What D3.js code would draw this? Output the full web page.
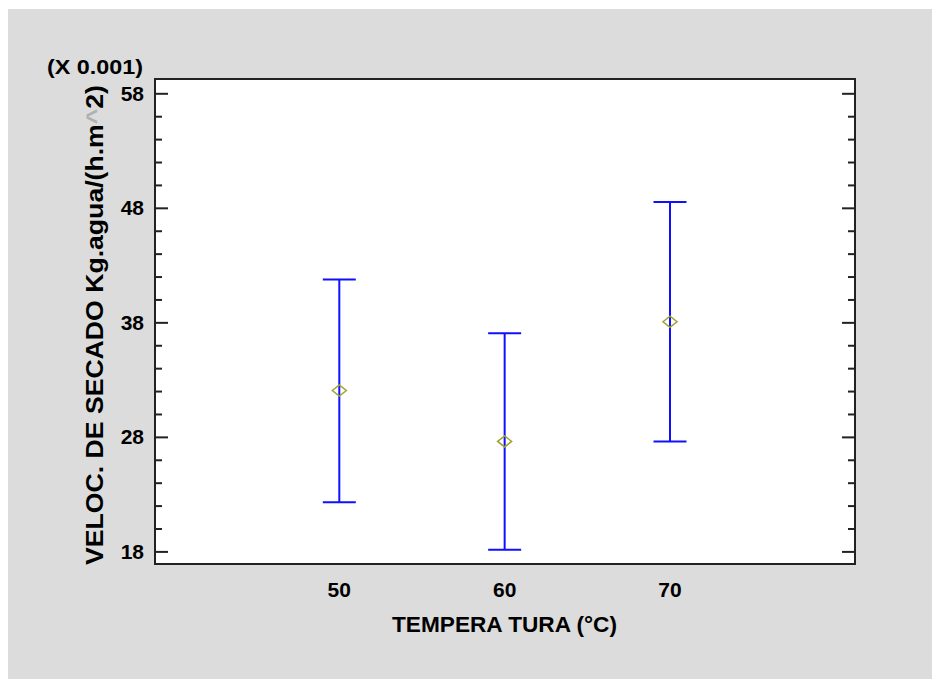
<!DOCTYPE html>
<html>
<head>
<meta charset="utf-8">
<script src="https://cdn.jsdelivr.net/npm/d3@7"></script>
<style>
  body { margin: 0; background: #fff; }
  text { font-family: "Liberation Sans", Arial, sans-serif; font-weight: bold; fill: #000; }
</style>
</head>
<body>
<div id="chart"></div>
<script>
// temperature groups and their means with interval limits (x 0.001)
const temps = [50, 60, 70];
const means = [32.05, 27.6, 38.05];
const lower = [22.3, 18.15, 27.6];
const upper = [41.75, 37.05, 48.5];
const yTicks = [18, 28, 38, 48, 58];

const W = 932, H = 679;
const svg = d3.select('#chart')
    .append('svg')
    .attr('width', W)
    .attr('height', H);

// grey panel
svg.append('rect')
    .attr('x', 8)
    .attr('y', 9)
    .attr('width', W - 8)
    .attr('height', H - 9)
    .attr('fill', '#dcdcdc');

const plot = { left: 155, top: 79, right: 855, bottom: 564 };

const x = d3.scaleLinear().domain([50, 70]).range([339.3, 670]);
const y = d3.scaleLinear().domain([18, 58]).range([551.4, 93.3]);

svg.append('rect')
    .attr('x', plot.left)
    .attr('y', plot.top)
    .attr('width', plot.right - plot.left)
    .attr('height', plot.bottom - plot.top)
    .attr('fill', '#fff')
    .attr('stroke', '#222')
    .attr('stroke-width', 2);

// minor ticks every 2 units, major every 10
const minor = d3.range(18, 59, 2).filter(v => !yTicks.includes(v));

const leftMajor = d3.axisRight(y).tickValues(yTicks).tickSize(13).tickFormat('');
const leftMinor = d3.axisRight(y).tickValues(minor).tickSize(7).tickFormat('');
const rightMajor = d3.axisLeft(y).tickValues(yTicks).tickSize(13).tickFormat('');
const rightMinor = d3.axisLeft(y).tickValues(minor).tickSize(7).tickFormat('');

[[leftMajor, plot.left], [leftMinor, plot.left], [rightMajor, plot.right], [rightMinor, plot.right]].forEach(([ax, px]) => {
    const g = svg.append('g').attr('transform', `translate(${px},0)`).call(ax);
    g.select('.domain').remove();
    g.selectAll('line').attr('stroke', '#222').attr('stroke-width', 2);
});

// y tick labels
svg.append('g')
    .selectAll('text')
    .data(yTicks)
    .join('text')
    .attr('x', 144)
    .attr('y', d => y(d))
    .attr('dy', '0.36em')
    .attr('text-anchor', 'end')
    .style('font-size', '21px')
    .text(d => d);

// x tick labels
svg.append('g')
    .selectAll('text')
    .data(temps)
    .join('text')
    .attr('x', d => x(d))
    .attr('y', 597)
    .attr('text-anchor', 'middle')
    .style('font-size', '21px')
    .text(d => d);

svg.append('text')
    .attr('x', 47)
    .attr('y', 74)
    .attr('textLength', 96)
    .attr('lengthAdjust', 'spacingAndGlyphs')
    .style('font-size', '21px')
    .text('(X 0.001)');

svg.append('text')
    .attr('x', 392)
    .attr('y', 632)
    .attr('textLength', 225)
    .attr('lengthAdjust', 'spacingAndGlyphs')
    .style('font-size', '22px')
    .text('TEMPERA TURA (°C)');

const yt = svg.append('text')
    .attr('transform', 'translate(103,565) rotate(-90)')
    .attr('textLength', 480)
    .attr('lengthAdjust', 'spacingAndGlyphs')
    .style('font-size', '24px');
yt.append('tspan').text('VELOC.  DE  SECADO Kg.agua/(h.m');
yt.append('tspan').style('fill', '#b0b0b0').text('^');
yt.append('tspan').text('2)');

// error bars
const bars = svg.append('g');
temps.forEach((t, i) => {
    const cx = x(t);
    bars.append('line')
        .attr('x1', cx).attr('x2', cx)
        .attr('y1', y(lower[i])).attr('y2', y(upper[i]))
        .attr('stroke', '#1010ff').attr('stroke-width', 2);
    [lower[i], upper[i]].forEach(v => {
        bars.append('line')
            .attr('x1', cx - 16.5).attr('x2', cx + 16.5)
            .attr('y1', y(v)).attr('y2', y(v))
            .attr('stroke', '#1010ff').attr('stroke-width', 2);
    });
});

// mean markers
svg.append('g')
    .selectAll('path')
    .data(temps)
    .join('path')
    .attr('d', (d, i) => {
        const cx = x(d), cy = y(means[i]);
        return `M${cx - 7},${cy} L${cx},${cy - 5.5} L${cx + 7},${cy} L${cx},${cy + 5.5} Z`;
    })
    .attr('fill', 'none')
    .attr('stroke', '#a0a030')
    .attr('stroke-width', 1.5);
</script>
</body>
</html>
